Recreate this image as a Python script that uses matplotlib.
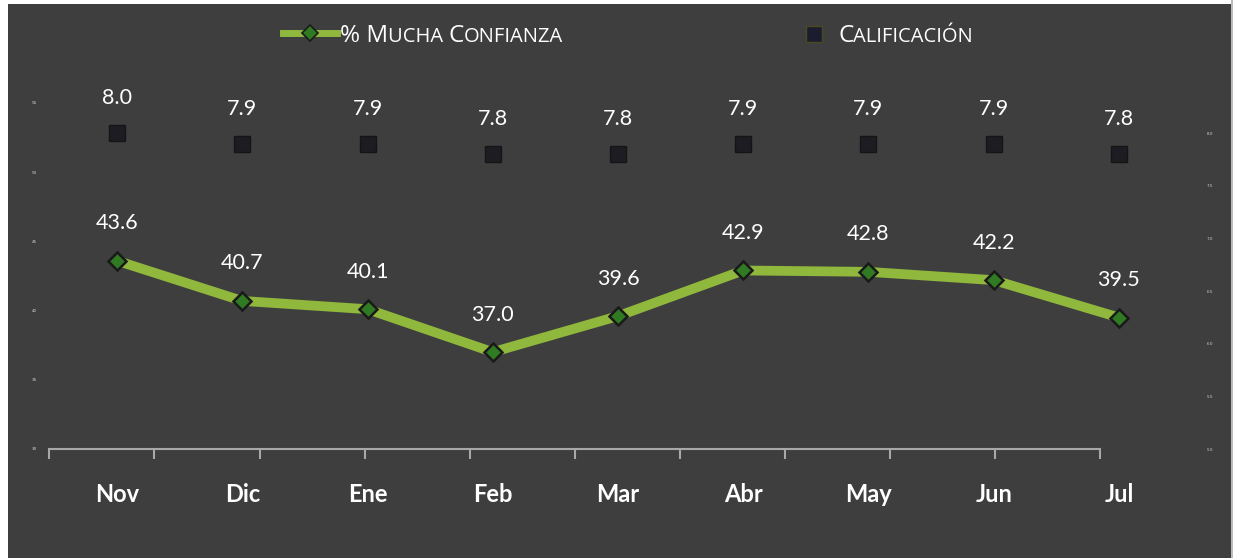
import numpy as np
import matplotlib.pyplot as plt
from matplotlib.lines import Line2D
from matplotlib.patches import Rectangle

# data
meses = ["Nov", "Dic", "Ene", "Feb", "Mar", "Abr", "May", "Jun", "Jul"]
confianza = [43.6, 40.7, 40.1, 37.0, 39.6, 42.9, 42.8, 42.2, 39.5]
calificacion = [8.0, 7.9, 7.9, 7.8, 7.8, 7.9, 7.9, 7.9, 7.8]

BG = "#3e3e3e"
VERDE = "#90b83c"
FUENTE = "Lato"

W, H = 1233, 558
fig = plt.figure(figsize=(W / 100, H / 100), dpi=100, facecolor=BG)

# white margin at left / top like the scanned original
fig.patches.append(Rectangle((0, 0), 8 / W, 1, transform=fig.transFigure,
                             facecolor="white", edgecolor="none", zorder=0))
fig.patches.append(Rectangle((0, 1 - 4 / H), 1, 4 / H, transform=fig.transFigure,
                             facecolor="white", edgecolor="none", zorder=0))
fig.patches.append(Rectangle((1231 / W, 0), 2 / W, 1, transform=fig.transFigure,
                             facecolor="#bbbbbb", edgecolor="none", zorder=0))

ax = fig.add_axes([49.4 / W, (H - 449) / H, (1181.6 - 49.4) / W, (449 - 103) / H])
ax.set_facecolor("none")
ax2 = ax.twinx()
ax2.set_facecolor("none")

x = np.arange(len(meses))

# % mucha confianza
ax.plot(x, confianza, color=VERDE, lw=7, solid_capstyle="round", zorder=3)
ax.plot(x, confianza, ls="none", marker="D", ms=9, mfc="#2f7a22",
        mec="#1a1a1a", mew=1.8, zorder=4)
for xi, v in zip(x, confianza):
    ax.annotate(f"{v:.1f}", (xi, v), xytext=(0, 27), textcoords="offset points",
                ha="center", va="center", color="white", fontsize=15.5,
                family=FUENTE)

# calificacion
ax2.plot(x, calificacion, ls="none", marker="s", ms=12, mfc="#1c1c22",
         mec="#151515", mew=1, zorder=4)
for xi, v in zip(x, calificacion):
    ax2.annotate(f"{v:.1f}", (xi, v), xytext=(0, 25), textcoords="offset points",
                 ha="center", va="center", color="white", fontsize=15.5,
                 family=FUENTE)

ax.set_xlim(-0.54, 8.5)
ax.set_ylim(30, 55)
ax2.set_ylim(5, 8.286)
ax.set_yticks(np.arange(30, 56, 5))
ax2.set_yticks(np.arange(5, 8.01, 0.5))
ax2.set_yticklabels([f"{t:.1f}" for t in np.arange(5, 8.01, 0.5)])
ax.tick_params(axis="y", length=0, labelsize=3, labelcolor="#d0d0d0", pad=9)
ax2.tick_params(axis="y", length=0, labelsize=3, labelcolor="#d0d0d0", pad=18)

# x axis: category labels + decorative ticks
for s in ["top", "left", "right"]:
    ax.spines[s].set_visible(False)
    ax2.spines[s].set_visible(False)
ax2.spines["bottom"].set_visible(False)
ax.spines["bottom"].set_color("#a8a8a8")
ax.spines["bottom"].set_linewidth(1.5)
ax.spines["bottom"].set_bounds(-0.54, 7.85)
ax.set_xticks(np.linspace(-0.54, 7.85, 11))
ax.set_xticklabels([])
ax.tick_params(axis="x", direction="out", length=7, width=1.5, color="#a8a8a8")
for xi, m in zip(x, meses):
    ax.annotate(m, (xi, 0), xycoords=("data", "axes fraction"), xytext=(0, -33),
                textcoords="offset points", ha="center", va="center",
                color="white", fontsize=17, fontweight="bold", family=FUENTE)


def versalitas(x0, y0, partes):
    """text in small caps: list of (string, size) pieces drawn one after another"""
    r = fig.canvas.get_renderer()
    xpx = x0
    for s, size in partes:
        t = fig.text(xpx / W, 1 - y0 / H, s, fontsize=size, color="white",
                     family="Open Sans", va="baseline", ha="left")
        xpx = t.get_window_extent(r).x1


# legend
fig.add_artist(Line2D([283 / W, 337 / W], [1 - 33 / H] * 2, color=VERDE, lw=5))
fig.add_artist(Line2D([310 / W], [1 - 33 / H], marker="D", ms=8, mfc="#2f7a22",
                      mec="#1a1a1a", mew=1.2))
versalitas(340, 42, [("% M", 17.5), ("UCHA ", 14.5), ("C", 17.5), ("ONFIANZA", 14.5)])
fig.add_artist(Line2D([814 / W], [1 - 34 / H], marker="s", ms=11, mfc="#1c1c30",
                      mec="#4a4a20", mew=1))
versalitas(838, 42, [("C", 17.5), ("ALIFICACIÓN", 14.5)])

fig.savefig("out.png", dpi=100, facecolor=BG)
